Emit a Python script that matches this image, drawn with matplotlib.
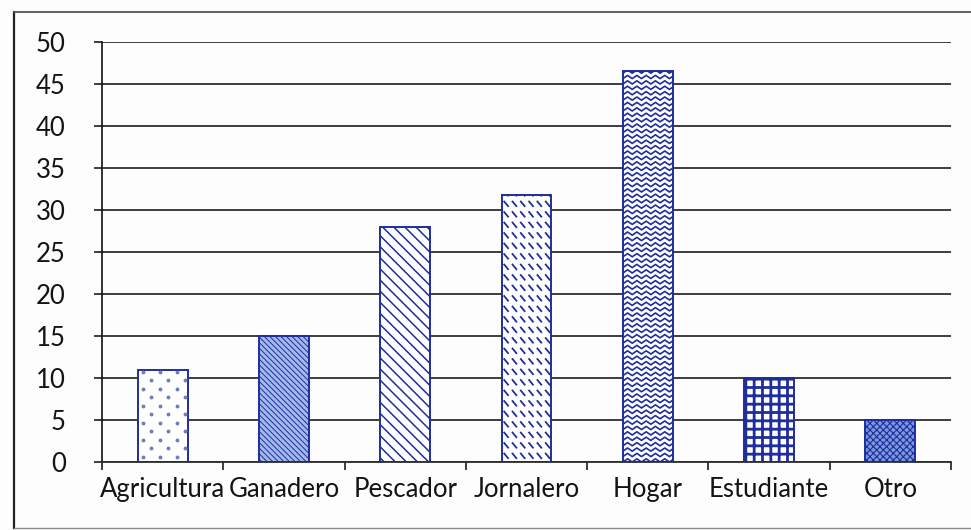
import numpy as np
import matplotlib
matplotlib.use("Agg")
import matplotlib.pyplot as plt
from matplotlib.collections import LineCollection
from matplotlib.lines import Line2D

# ------------------------------------------------------------------------------------------
# data
categories = ["Agricultura", "Ganadero", "Pescador", "Jornalero", "Hogar", "Estudiante", "Otro"]
values = [11, 15, 28, 31.8, 46.6, 10, 5]
y_ticks = [0, 5, 10, 15, 20, 25, 30, 35, 40, 45, 50]

# ------------------------------------------------------------------------------------------
# styles
edge_blue = "#1f2e9c"
bar_fills = ["white", "#a3b9ec", "white", "white", "white", "white", "#7b98de"]
bar_hatches = [None, "\\\\\\\\\\\\", "\\\\\\", None, None, "++", "xxxxx"]
hatch_widths = [1.0, 0.7, 1.1, 1.0, 1.0, 2.0, 0.8]
grid_col = "#2e2e2e"
text_col = "#141414"

plt.rcParams["font.family"] = ["Lato", "DejaVu Sans"]

fig = plt.figure(figsize=(9.71, 5.30), dpi=100)
fig.patch.set_facecolor("#fdfdfd")

W, H = 971.0, 530.0
ax_left, ax_right, ax_bottom, ax_top = 102, 951, 462, 42
ax = fig.add_axes([ax_left / W, 1 - ax_bottom / H, (ax_right - ax_left) / W, (ax_bottom - ax_top) / H])
ax.set_facecolor("none")

x = np.arange(len(categories))
bars = []
for i, (v, fc, ht, hw) in enumerate(zip(values, bar_fills, bar_hatches, hatch_widths)):
    with plt.rc_context({"hatch.linewidth": hw}):
        b = ax.bar(x[i], v, width=0.41, color=fc, edgecolor=edge_blue, linewidth=1.4,
                   hatch=ht, zorder=2)
    bars.append(b[0])

# px -> data unit helpers
px_x = 1.0 / ((ax_right - ax_left) / len(categories))
px_y = 50.0 / (ax_bottom - ax_top)


def clipped(lc, bar):
    ax.add_collection(lc, autolim=False)
    lc.set_clip_path(bar)


def zigzag_fill(bar, row_px=5.4, period_px=9.3, amp_px=3.2):
    x0, w, h = bar.get_x(), bar.get_width(), bar.get_height()
    period = period_px * px_x
    xs = np.arange(x0 - period, x0 + w + period, period / 2)
    segs = []
    for yb in np.arange(-row_px * px_y, h + row_px * px_y, row_px * px_y):
        ys = yb + np.where(np.arange(len(xs)) % 2 == 0, 0.0, amp_px * px_y)
        segs.append(np.column_stack([xs, ys]))
    clipped(LineCollection(segs, colors=edge_blue, linewidths=1.2, zorder=2.5), bar)


def dash_fill(bar, row_px=10.5, step_px=8.3, sx_px=5.0, sy_px=6.0):
    x0, w, h = bar.get_x(), bar.get_width(), bar.get_height()
    segs = []
    for yb in np.arange(row_px * px_y * 0.3, h + row_px * px_y, row_px * px_y):
        for xs in np.arange(x0 + 2 * px_x, x0 + w, step_px * px_x):
            segs.append([(xs, yb + sy_px * px_y), (xs + sx_px * px_x, yb)])
    clipped(LineCollection(segs, colors=edge_blue, linewidths=1.3, zorder=2.5), bar)


def dot_fill(bar, step_px=17.0, row_px=8.5):
    x0, w, h = bar.get_x(), bar.get_width(), bar.get_height()
    dx, dy = [], []
    for r, yb in enumerate(np.arange(row_px * px_y * 0.6, h, row_px * px_y)):
        off = (r % 2) * step_px * px_x / 2
        for xs in np.arange(x0 + 5 * px_x + off, x0 + w, step_px * px_x):
            dx.append(xs)
            dy.append(yb)
    pts, = ax.plot(dx, dy, linestyle="none", marker="o", markersize=1.8,
                   color="#6f7fb8", zorder=2.5)
    pts.set_clip_path(bar)


dot_fill(bars[0])
dash_fill(bars[3])
zigzag_fill(bars[4])

# ------------------------------------------------------------------------------------------
# axes
ax.set_xlim(-0.5, len(categories) - 0.5)
ax.set_ylim(0, 50)
ax.set_yticks(y_ticks)
ax.yaxis.grid(True, color=grid_col, linewidth=1.3)
ax.set_axisbelow(True)

ax.set_xticks(x)
ax.set_xticklabels(categories)
ax.set_xticks(np.arange(-0.5, len(categories), 1.0), minor=True)
ax.tick_params(axis="x", which="major", length=0, pad=11, labelsize=18.5, labelcolor=text_col)
ax.tick_params(axis="x", which="minor", length=6, width=1.3, color=grid_col, direction="out")
ax.tick_params(axis="y", which="major", length=6, width=1.3, color=grid_col, pad=20,
               labelsize=18.5, labelcolor=text_col)

for side in ["top", "right"]:
    ax.spines[side].set_visible(False)
ax.spines["left"].set_color("#111111")
ax.spines["left"].set_linewidth(1.2)
ax.spines["bottom"].set_color(grid_col)
ax.spines["bottom"].set_linewidth(1.3)

# scanned chart frame
frame_x = 14 / W
fig.add_artist(Line2D([frame_x, frame_x], [1 - 12 / H, 1 - 528 / H], transform=fig.transFigure,
                      color="#222222", linewidth=1.6))
fig.add_artist(Line2D([frame_x, 1.0], [1 - 12 / H, 1 - 12 / H], transform=fig.transFigure,
                      color="#555555", linewidth=1.3))
fig.add_artist(Line2D([frame_x, 1.0], [1 - 528 / H, 1 - 528 / H], transform=fig.transFigure,
                      color="#888888", linewidth=1.0))

fig.savefig("out.png", dpi=100, facecolor=fig.get_facecolor())
